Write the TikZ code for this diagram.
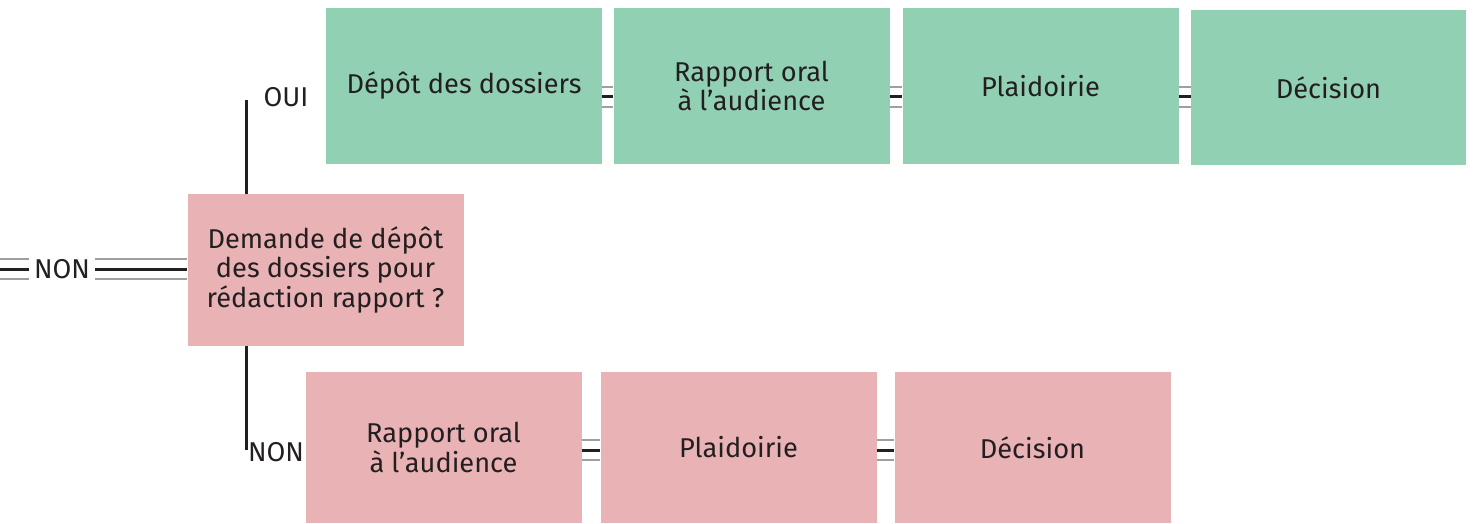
\documentclass[tikz,border=0pt]{standalone}
\usepackage{fontspec}
\setmainfont{Fira Sans}
\usetikzlibrary{positioning}
\usetikzlibrary{calc}
\definecolor{vert}{HTML}{92D0B4}
\definecolor{rose}{HTML}{E9B3B5}
\definecolor{encre}{HTML}{231F20}
\tikzset{boxOui/.style={fill=vert, minimum width=138pt, minimum height=78pt, inner sep=0pt, align=center, text=encre, font=\fontsize{13.6}{13.4}\selectfont}}
\tikzset{boxNon/.style={boxOui, fill=rose, minimum height=75.5pt}}
\tikzset{label/.style={text=encre, inner sep=0pt, inner xsep=2.5pt, font=\fontsize{13.6}{13.4}\selectfont}}
\tikzset{link/.style={preaction={draw=gray!75, line width=10.75pt}, preaction={draw=white, line width=9.25pt}, draw=encre, line width=1.5pt}}
\tikzset{stem/.style={draw=encre, line width=1.5pt}}

\begin{document}
\begin{tikzpicture}[x=0.5pt, y=-0.5pt]
\useasboundingbox (0,0) rectangle (1474,524);
% demande
\node[boxNon] (mid) at (325.5,270) {Demande de dépôt\\des dossiers pour\\rédaction rapport ?};

% branche oui
\node[boxOui] (d1) at (464,86) {Dépôt des dossiers};
\node[boxOui] (d2) at (751.5,86) {Rapport oral\\à l’audience};
\node[boxOui] (d3) at (1040.5,86) {Plaidoirie};
\node[boxOui, minimum width=137.5pt, minimum height=77.5pt] (d4) at (1328.5,87.5) {Décision};

% branche non
\node[boxNon] (b1) at (443.5,447.5) {Rapport oral\\à l’audience};
\node[boxNon] (b2) at (738.5,447.5) {Plaidoirie};
\node[boxNon] (b3) at (1032.5,447.5) {Décision};

\node[label] (oui) at (286,97) {OUI};
\node[label] (nonBas) at (276,452) {NON};
\node[label] (nonGauche) at (62,269) {NON};

\coordinate (ouiEnd) at (246,100);
\coordinate (nonEnd) at (246,450);
\coordinate (leftEnd) at (0,269);

\draw[stem] (mid.north -| ouiEnd) -- (ouiEnd);
\draw[stem] (mid.south -| nonEnd) -- (nonEnd);

\draw[link] (leftEnd) -- (nonGauche.west);
\draw[link] (nonGauche.east) -- (nonGauche.east -| mid.west);

\draw[link] ([yshift=-5.5pt]d1.east) -- ([yshift=-5.5pt]d2.west);
\draw[link] ([yshift=-5.5pt]d2.east) -- ([yshift=-5.5pt]d3.west);
\draw[link] ([yshift=-5.5pt]d3.east) -- ([yshift=-5.5pt]d3.east -| d4.west);

\draw[link] ([yshift=-1.25pt]b1.east) -- ([yshift=-1.25pt]b2.west);
\draw[link] ([yshift=-1.25pt]b2.east) -- ([yshift=-1.25pt]b3.west);
\end{tikzpicture}
\end{document}
